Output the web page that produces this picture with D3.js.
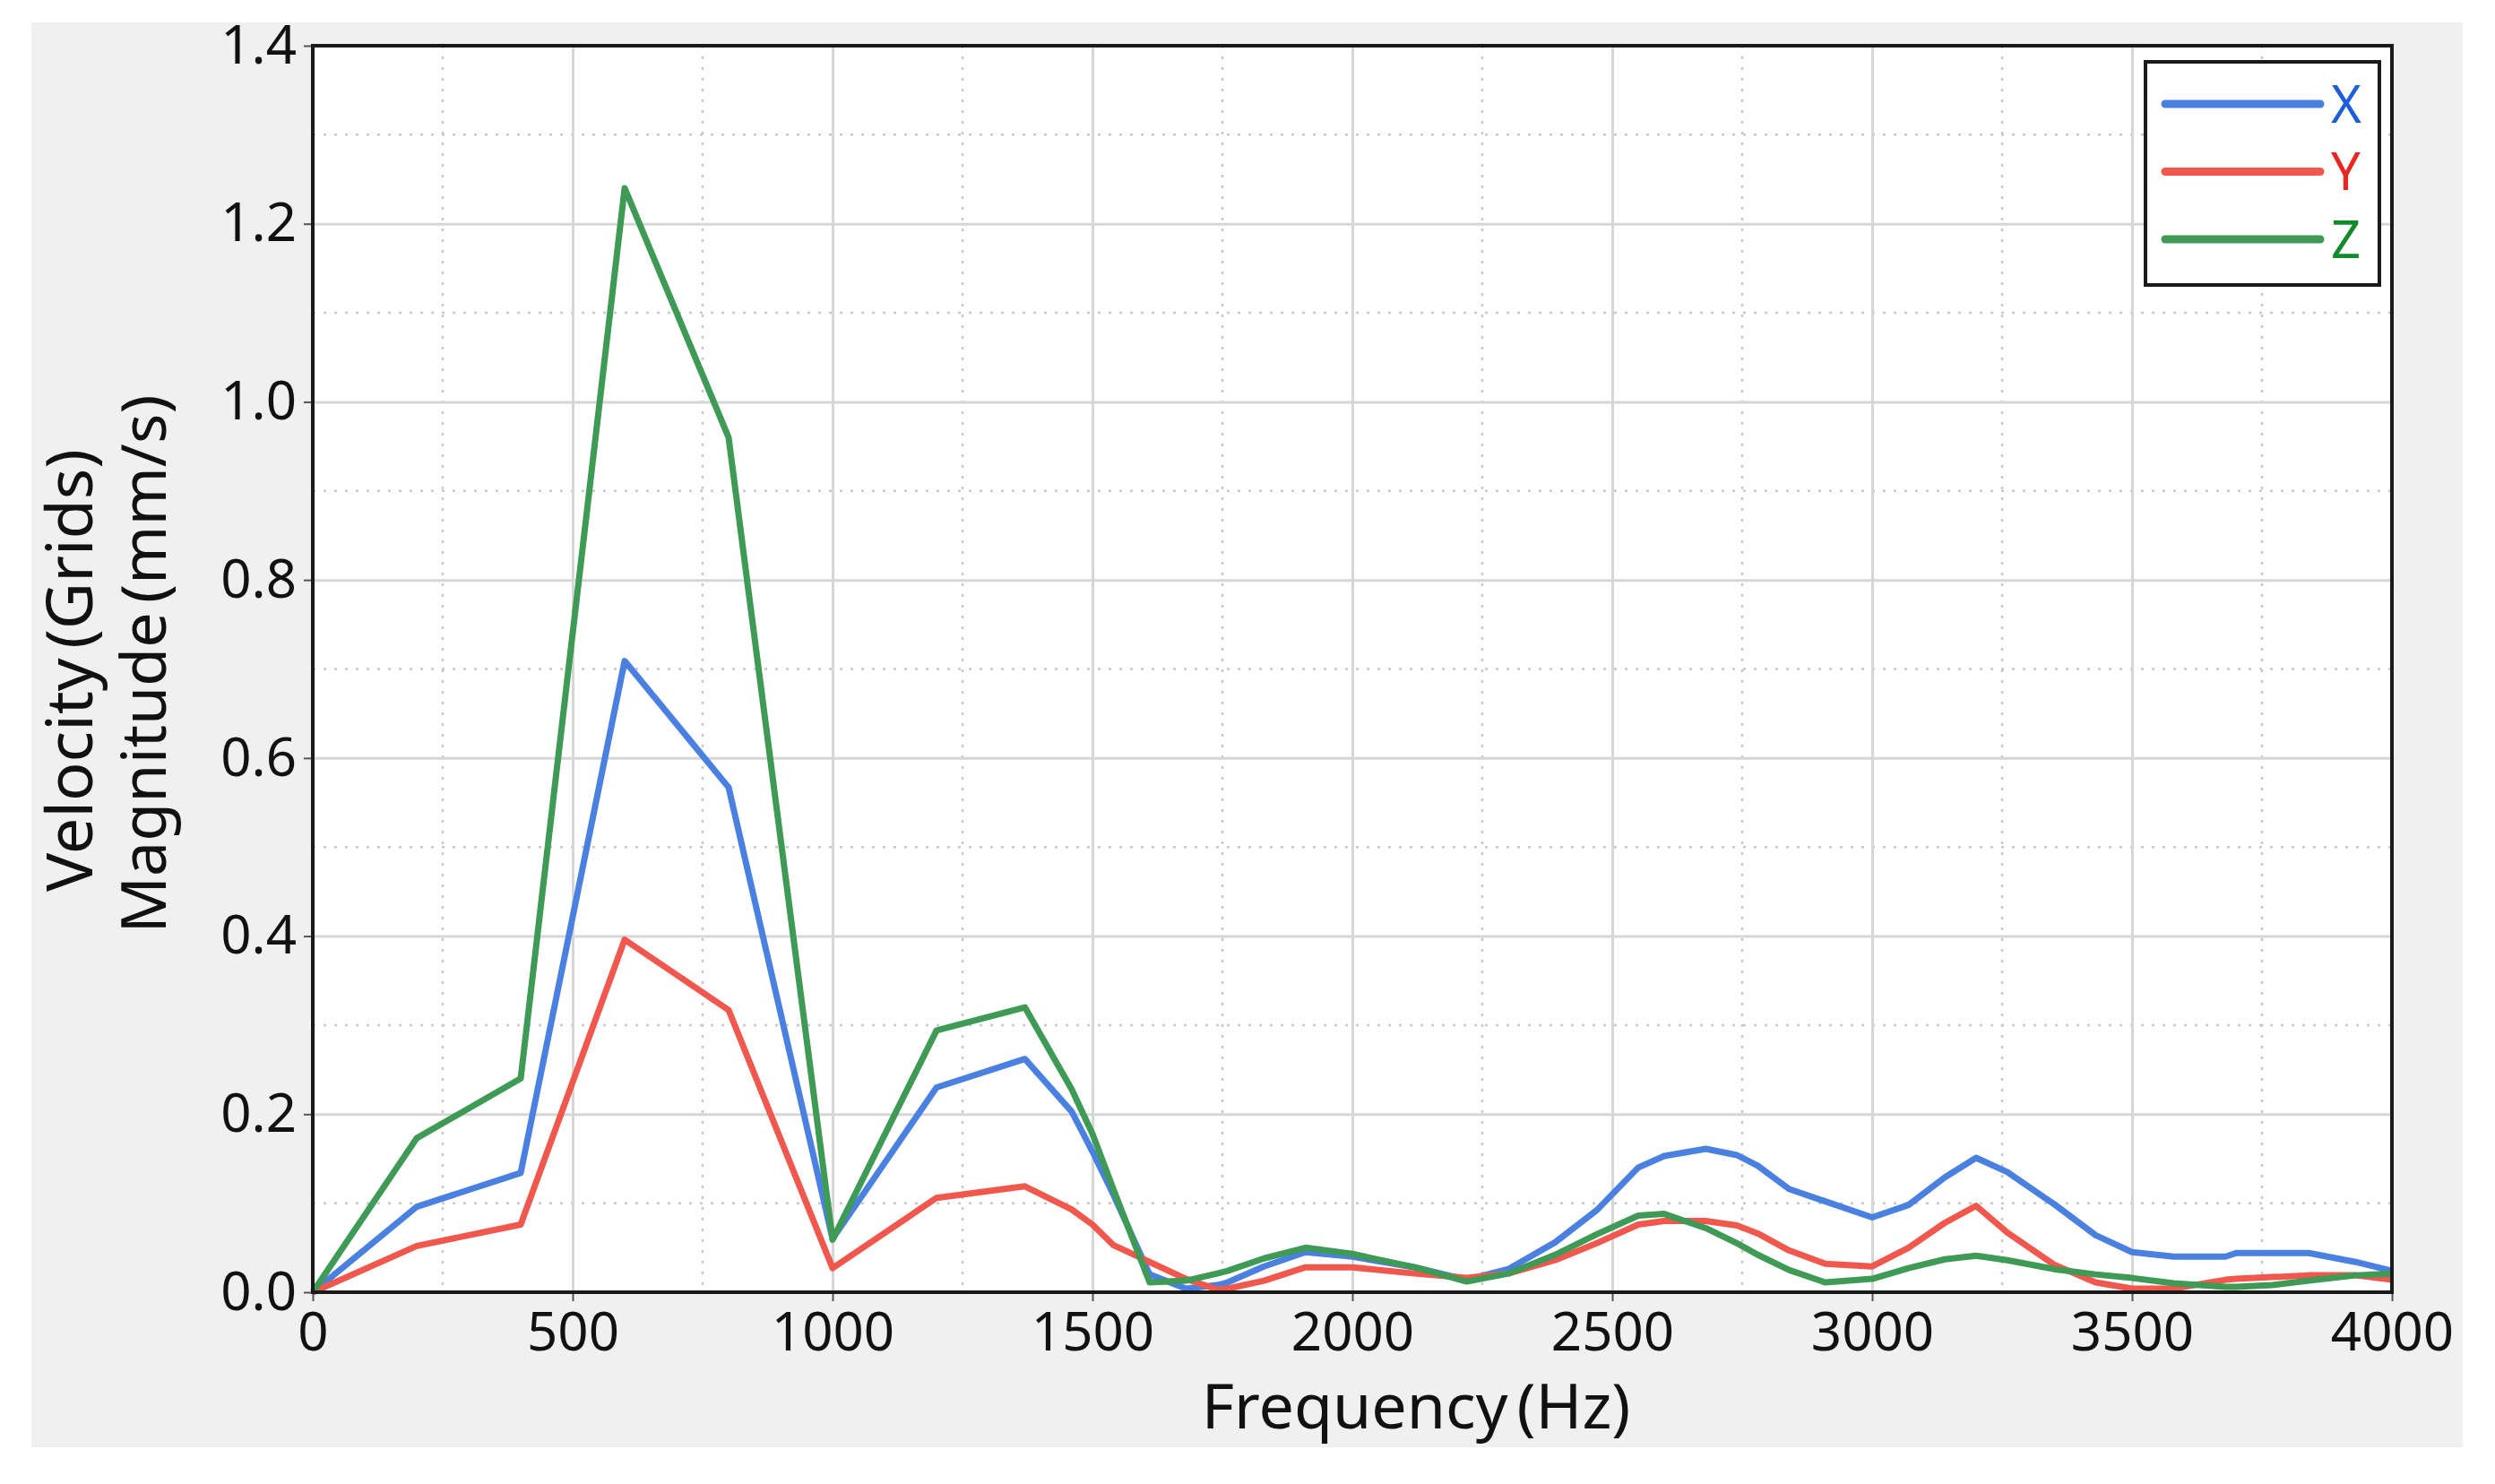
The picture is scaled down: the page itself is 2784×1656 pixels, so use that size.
<!DOCTYPE html>
<html>
<head>
<meta charset="utf-8">
<script src="https://cdn.jsdelivr.net/npm/d3@7"></script>
<style>
  html, body { margin: 0; padding: 0; background: #fff; }
  svg { display: block; font-family: 'Noto Sans', 'Open Sans', sans-serif; }
</style>
</head>
<body>
<div id="chart"></div>
<script>
const width = 2784;
const height = 1656;

// frequency samples (Hz) shared by all three series
const freqs = [0, 200, 400, 600, 800, 1000, 1200, 1370, 1460, 1500, 1540, 1610, 1680, 1740, 1760,
  1830, 1910, 2000, 2120, 2220, 2300, 2390, 2470, 2550, 2600, 2680, 2740, 2780, 2840, 2910,
  3000, 3070, 3140, 3200, 3260, 3350, 3430, 3500, 3580, 3680, 3700, 3770, 3840, 3930, 4000];

const xValues = [0, 0.096, 0.134, 0.709, 0.567, 0.060, 0.230, 0.262, 0.203, 0.158, 0.110, 0.020, 0.004, 0.008, 0.011,
  0.029, 0.045, 0.040, 0.028, 0.014, 0.026, 0.056, 0.092, 0.140, 0.153, 0.161, 0.154, 0.142, 0.116, 0.102,
  0.084, 0.098, 0.129, 0.151, 0.135, 0.099, 0.064, 0.045, 0.040, 0.040, 0.044, 0.044, 0.044, 0.034, 0.024];

const yValues = [0, 0.052, 0.076, 0.396, 0.317, 0.027, 0.106, 0.119, 0.093, 0.076, 0.053, 0.034, 0.015, 0.003, 0.004,
  0.013, 0.028, 0.028, 0.021, 0.016, 0.021, 0.036, 0.055, 0.076, 0.080, 0.080, 0.075, 0.066, 0.047, 0.032,
  0.029, 0.050, 0.078, 0.097, 0.067, 0.031, 0.011, 0.004, 0.004, 0.014, 0.015, 0.017, 0.019, 0.019, 0.014];

const zValues = [0, 0.173, 0.240, 1.240, 0.960, 0.059, 0.294, 0.320, 0.228, 0.178, 0.116, 0.011, 0.013, 0.021, 0.024,
  0.038, 0.050, 0.043, 0.028, 0.012, 0.021, 0.042, 0.065, 0.086, 0.088, 0.072, 0.055, 0.042, 0.025, 0.011,
  0.015, 0.027, 0.037, 0.041, 0.036, 0.026, 0.020, 0.016, 0.010, 0.006, 0.006, 0.008, 0.013, 0.019, 0.021];

const seriesNames = ['X', 'Y', 'Z'];
const lineColors = ['#4a80df', '#f0584e', '#3e9a55'];
const labelColors = ['#1c5fd8', '#e8281e', '#118a2c'];

const xTicks = [0, 500, 1000, 1500, 2000, 2500, 3000, 3500, 4000];
const yTicks = [0, 0.2, 0.4, 0.6, 0.8, 1.0, 1.2, 1.4];

const plot = { left: 349, right: 2669, top: 51, bottom: 1442 };

const svg = d3.select('#chart')
  .append('svg')
  .attr('width', width)
  .attr('height', height);

// grey panel behind the chart
svg.append('rect')
  .attr('x', 35).attr('y', 25)
  .attr('width', 2713).attr('height', 1590)
  .attr('fill', '#f0f0f0');

svg.append('rect')
  .attr('x', plot.left).attr('y', plot.top)
  .attr('width', plot.right - plot.left).attr('height', plot.bottom - plot.top)
  .attr('fill', '#fff');

const xScale = d3.scaleLinear().domain([0, 4000]).range([plot.left, plot.right]);
const yScale = d3.scaleLinear().domain([0, 1.4]).range([plot.bottom, plot.top]);

// minor grid (dotted)
const minorX = d3.range(250, 4000, 500);
const minorY = d3.range(0.1, 1.4, 0.2);
svg.append('g')
  .selectAll('line.mx')
  .data(minorX)
  .enter()
  .append('line')
  .attr('x1', (d) => xScale(d)).attr('x2', (d) => xScale(d))
  .attr('y1', plot.top).attr('y2', plot.bottom)
  .attr('stroke', '#c8c8c8').attr('stroke-width', 2.5)
  .attr('stroke-dasharray', '3,9');
svg.append('g')
  .selectAll('line.my')
  .data(minorY)
  .enter()
  .append('line')
  .attr('x1', plot.left).attr('x2', plot.right)
  .attr('y1', (d) => yScale(d)).attr('y2', (d) => yScale(d))
  .attr('stroke', '#c8c8c8').attr('stroke-width', 2.5)
  .attr('stroke-dasharray', '3,9');

// major grid
const xGrid = d3.axisBottom(xScale).tickValues(xTicks).tickSize(-(plot.bottom - plot.top)).tickFormat('');
svg.append('g')
  .attr('class', 'grid')
  .attr('transform', `translate(0, ${plot.bottom})`)
  .call(xGrid);
const yGrid = d3.axisLeft(yScale).tickValues(yTicks).tickSize(-(plot.right - plot.left)).tickFormat('');
svg.append('g')
  .attr('class', 'grid')
  .attr('transform', `translate(${plot.left}, 0)`)
  .call(yGrid);
svg.selectAll('.grid .domain').remove();
svg.selectAll('.grid line').attr('stroke', '#d6d6d6').attr('stroke-width', 3);

// data lines
const allSeries = [xValues, yValues, zValues];
const line = d3.line()
  .x((d, i) => xScale(freqs[i]))
  .y((d) => yScale(d));

svg.append('g')
  .selectAll('path')
  .data(allSeries)
  .enter()
  .append('path')
  .attr('d', (d) => line(d))
  .attr('fill', 'none')
  .attr('stroke', (d, i) => lineColors[i])
  .attr('stroke-width', 7)
  .attr('stroke-linejoin', 'round');

// axes
const xAxis = d3.axisBottom(xScale).tickValues(xTicks).tickSize(10).tickPadding(12).tickFormat(d3.format('d'));
const gx = svg.append('g')
  .attr('transform', `translate(0, ${plot.bottom})`)
  .call(xAxis);

const yAxis = d3.axisLeft(yScale).tickValues(yTicks).tickSize(10).tickPadding(8).tickFormat(d3.format('.1f'));
const gy = svg.append('g')
  .attr('transform', `translate(${plot.left}, 0)`)
  .call(yAxis);

[gx, gy].forEach((g) => {
  g.select('.domain').remove();
  g.selectAll('.tick line').attr('stroke', '#555').attr('stroke-width', 2);
  g.selectAll('.tick text')
    .attr('fill', '#111')
    .style('font-size', '60px')
    .style('font-family', "'Noto Sans', sans-serif");
});

// plot frame
svg.append('rect')
  .attr('x', plot.left).attr('y', plot.top)
  .attr('width', plot.right - plot.left).attr('height', plot.bottom - plot.top)
  .attr('fill', 'none')
  .attr('stroke', '#1a1a1a')
  .attr('stroke-width', 4);

// axis titles
svg.append('text')
  .attr('x', 1580)
  .attr('y', 1594)
  .attr('text-anchor', 'middle')
  .attr('fill', '#111')
  .style('font-size', '70px')
  .style('word-spacing', '-8px')
  .text('Frequency (Hz)');

svg.append('text')
  .attr('transform', 'translate(103, 748) rotate(-90)')
  .attr('text-anchor', 'middle')
  .attr('fill', '#111')
  .style('font-size', '72px')
  .style('word-spacing', '-8px')
  .text('Velocity (Grids)');

svg.append('text')
  .attr('transform', 'translate(185, 741) rotate(-90)')
  .attr('text-anchor', 'middle')
  .attr('fill', '#111')
  .style('font-size', '70px')
  .style('word-spacing', '-8px')
  .text('Magnitude (mm/s)');

// legend
const legend = svg.append('g');
legend.append('rect')
  .attr('x', 2394).attr('y', 69)
  .attr('width', 261).attr('height', 249)
  .attr('fill', '#fff')
  .attr('stroke', '#1a1a1a')
  .attr('stroke-width', 4);

const legendY = d3.scalePoint().domain(seriesNames).range([116, 267]);
seriesNames.forEach((name, i) => {
  legend.append('line')
    .attr('x1', 2416).attr('x2', 2589)
    .attr('y1', legendY(name)).attr('y2', legendY(name))
    .attr('stroke', lineColors[i])
    .attr('stroke-width', 9)
    .attr('stroke-linecap', 'round');
  legend.append('text')
    .attr('x', 2601)
    .attr('y', legendY(name))
    .attr('dy', '0.36em')
    .attr('fill', labelColors[i])
    .style('font-size', '58px')
    .text(name);
});
</script>
</body>
</html>
